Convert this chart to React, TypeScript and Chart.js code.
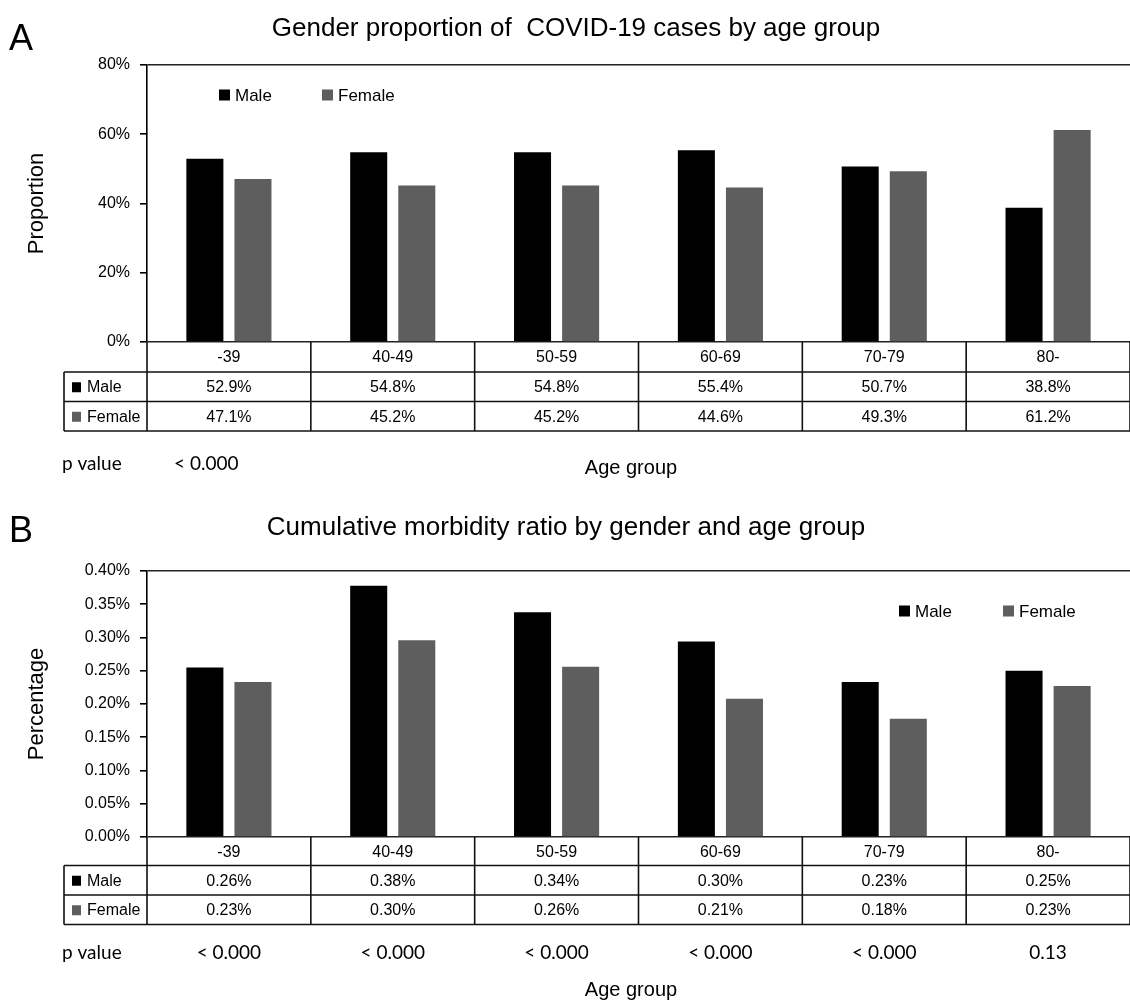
import React, { useEffect, useRef } from 'react';
import { Chart, registerables } from 'chart.js';

Chart.register(...registerables);

const FONT = '"Liberation Sans", Arial, sans-serif';
const PFONT = 'Lato, "Open Sans", sans-serif';

// ---- shared ----
const ageGroups = ['-39', '40-49', '50-59', '60-69', '70-79', '80-'];
const seriesNames = ['Male', 'Female'];
const seriesColors = ['#000000', '#5e5e5e'];

// ---- Panel A: gender proportion ----
const propMale = [52.9, 54.8, 54.8, 55.4, 50.7, 38.8];
const propFemale = [47.1, 45.2, 45.2, 44.6, 49.3, 61.2];
const propMaleText = ['52.9%', '54.8%', '54.8%', '55.4%', '50.7%', '38.8%'];
const propFemaleText = ['47.1%', '45.2%', '45.2%', '44.6%', '49.3%', '61.2%'];
const propPValues = ['< 0.000'];
const propTicks = [0, 20, 40, 60, 80];
const propTickText = ['0%', '20%', '40%', '60%', '80%'];

// ---- Panel B: cumulative morbidity ratio ----
const morbMale = [0.255, 0.378, 0.338, 0.294, 0.233, 0.25];
const morbFemale = [0.233, 0.296, 0.256, 0.208, 0.178, 0.227];
const morbMaleText = ['0.26%', '0.38%', '0.34%', '0.30%', '0.23%', '0.25%'];
const morbFemaleText = ['0.23%', '0.30%', '0.26%', '0.21%', '0.18%', '0.23%'];
const morbPValues = ['< 0.000', '< 0.000', '< 0.000', '< 0.000', '< 0.000', '0.13'];
const morbTicks = [0, 0.05, 0.1, 0.15, 0.2, 0.25, 0.3, 0.35, 0.4];
const morbTickText = ['0.00%', '0.05%', '0.10%', '0.15%', '0.20%', '0.25%', '0.30%', '0.35%', '0.40%'];

type PanelDef = {
  letter: string;
  title: string;
  yTitle: string;
  male: number[];
  female: number[];
  maleText: string[];
  femaleText: string[];
  pValues: string[];
  pMode: 'left' | 'columns';
  ticks: number[];
  tickText: string[];
  // layout (canvas coordinates)
  top: number;
  height: number;
  plotTop: number;
  plotBottom: number;
  letterBase: number;
  titleX: number;
  titleBase: number;
  legendX: number;
  legendY: number;
  legendGap: number;
  rowH: number[];
  pY: number;
  pX: number;
  ageX: number;
  ageY: number;
};

const panels: PanelDef[] = [
  {
    letter: 'A',
    title: 'Gender proportion of  COVID-19 cases by age group',
    yTitle: 'Proportion',
    male: propMale,
    female: propFemale,
    maleText: propMaleText,
    femaleText: propFemaleText,
    pValues: propPValues,
    pMode: 'left',
    ticks: propTicks,
    tickText: propTickText,
    top: 0,
    height: 500,
    plotTop: 65,
    plotBottom: 342,
    letterBase: 50,
    titleX: 576,
    titleBase: 36,
    legendX: 219,
    legendY: 95,
    legendGap: 103,
    rowH: [30, 29.5, 29.5],
    pY: 464,
    pX: 174,
    ageX: 631,
    ageY: 468,
  },
  {
    letter: 'B',
    title: 'Cumulative morbidity ratio by gender and age group',
    yTitle: 'Percentage',
    male: morbMale,
    female: morbFemale,
    maleText: morbMaleText,
    femaleText: morbFemaleText,
    pValues: morbPValues,
    pMode: 'columns',
    ticks: morbTicks,
    tickText: morbTickText,
    top: 500,
    height: 505,
    plotTop: 71,
    plotBottom: 337,
    letterBase: 42,
    titleX: 566,
    titleBase: 35,
    legendX: 899,
    legendY: 111,
    legendGap: 104,
    rowH: [28.5, 29.5, 29.5],
    pY: 453,
    pX: 0,
    ageX: 631,
    ageY: 490,
  },
];

const TABLE_LEFT = 64;

function extrasPlugin(p: PanelDef) {
  return {
    id: 'extras' + p.letter,
    afterDraw(chart: any) {
      const { ctx, chartArea: ca, scales } = chart;
      const xs = scales.x;
      const n = ageGroups.length;
      ctx.save();

      // panel letter
      ctx.fillStyle = '#000';
      ctx.textAlign = 'left';
      ctx.textBaseline = 'alphabetic';
      ctx.font = `36px ${FONT}`;
      ctx.fillText(p.letter, 9, p.letterBase);

      // title
      ctx.font = `26px ${FONT}`;
      ctx.textAlign = 'center';
      ctx.fillText(p.title, p.titleX, p.titleBase);

      // legend
      ctx.font = `17px ${FONT}`;
      ctx.textAlign = 'left';
      ctx.textBaseline = 'middle';
      chart.data.datasets.forEach((ds: any, i: number) => {
        const lx = p.legendX + i * p.legendGap;
        ctx.fillStyle = ds.backgroundColor;
        ctx.fillRect(lx, p.legendY - 5.5, 11, 11);
        ctx.fillStyle = '#000';
        ctx.fillText(ds.label, lx + 16, p.legendY + 1);
      });

      // table grid
      const ys = [ca.bottom];
      p.rowH.forEach((h) => ys.push(ys[ys.length - 1] + h));
      const bounds: number[] = [];
      for (let i = 0; i <= n; i++) bounds.push(xs.getPixelForValue(i - 0.5));
      ctx.strokeStyle = '#111';
      ctx.lineWidth = 1.6;
      ctx.beginPath();
      bounds.forEach((bx) => {
        ctx.moveTo(bx, ys[0]);
        ctx.lineTo(bx, ys[3]);
      });
      ctx.moveTo(TABLE_LEFT, ys[1]);
      ctx.lineTo(TABLE_LEFT, ys[3]);
      for (let k = 1; k <= 3; k++) {
        ctx.moveTo(TABLE_LEFT, ys[k]);
        ctx.lineTo(ca.right, ys[k]);
      }
      ctx.stroke();

      // table text
      ctx.font = `16px ${FONT}`;
      ctx.textAlign = 'center';
      ctx.fillStyle = '#000';
      const rowMid = (k: number) => (ys[k] + ys[k + 1]) / 2 + 1;
      ageGroups.forEach((g, i) => {
        const cx = xs.getPixelForValue(i);
        ctx.fillText(g, cx, rowMid(0));
        ctx.fillText(p.maleText[i], cx, rowMid(1));
        ctx.fillText(p.femaleText[i], cx, rowMid(2));
      });
      [1, 2].forEach((k) => {
        const ds = chart.data.datasets[k - 1];
        ctx.fillStyle = ds.backgroundColor;
        ctx.fillRect(TABLE_LEFT + 8, rowMid(k) - 5.5, 9, 10);
        ctx.fillStyle = '#000';
        ctx.textAlign = 'left';
        ctx.fillText(seriesNames[k - 1], TABLE_LEFT + 23, rowMid(k));
      });

      // p values
      ctx.font = `19px ${PFONT}`;
      ctx.textAlign = 'left';
      ctx.fillText('p value', 62, p.pY);
      if (p.pMode === 'left') {
        ctx.fillText(p.pValues[0], p.pX, p.pY);
      } else {
        ctx.textAlign = 'center';
        p.pValues.forEach((v, i) => ctx.fillText(v, xs.getPixelForValue(i), p.pY));
      }

      // x axis title
      ctx.font = `20px ${FONT}`;
      ctx.textAlign = 'center';
      ctx.fillText('Age group', p.ageX, p.ageY);
      ctx.restore();
    },
  };
}

function Panel({ p }: { p: PanelDef }) {
  const ref = useRef<HTMLCanvasElement>(null);
  useEffect(() => {
    const canvas = ref.current;
    if (!canvas) return;
    const maxV = p.ticks[p.ticks.length - 1];
    const chart = new Chart(canvas, {
      type: 'bar',
      data: {
        labels: ageGroups,
        datasets: [
          {
            label: seriesNames[0],
            data: p.male,
            backgroundColor: seriesColors[0],
            borderWidth: 0,
            categoryPercentage: 0.587,
            barPercentage: 0.77,
          },
          {
            label: seriesNames[1],
            data: p.female,
            backgroundColor: seriesColors[1],
            borderWidth: 0,
            categoryPercentage: 0.587,
            barPercentage: 0.77,
          },
        ],
      },
      options: {
        responsive: false,
        animation: false,
        events: [],
        layout: {
          padding: { left: 0, right: 0, top: p.plotTop, bottom: p.height - p.plotBottom },
        },
        plugins: {
          legend: { display: false },
          title: { display: false },
          tooltip: { enabled: false },
        },
        scales: {
          x: { display: false },
          y: {
            min: 0,
            max: maxV,
            afterBuildTicks: (s: any) => {
              s.ticks = p.ticks.map((v) => ({ value: v }));
            },
            afterFit: (s: any) => {
              s.width = 147;
            },
            ticks: {
              color: '#000',
              font: { family: FONT, size: 16 },
              padding: 10,
              callback: (_v: any, i: number) => p.tickText[i],
            },
            grid: {
              color: (c: any) =>
                c.tick && (c.tick.value === maxV || c.tick.value === 0) ? '#222' : 'rgba(0,0,0,0)',
              tickColor: '#000',
              tickLength: 7,
              lineWidth: 1.6,
            },
            border: { display: true, color: '#000', width: 1.6 },
            title: {
              display: true,
              text: p.yTitle,
              color: '#000',
              font: { family: FONT, size: 22 },
              padding: { top: 24, bottom: 0 },
            },
          },
        },
      },
      plugins: [extrasPlugin(p)],
    } as any);
    return () => chart.destroy();
  }, [p]);
  return (
    <div style={{ position: 'absolute', left: 0, top: p.top, width: 1130, height: p.height }}>
      <canvas ref={ref} width={1130} height={p.height} style={{ display: 'block' }} />
    </div>
  );
}

export default function App() {
  return (
    <div
      style={{
        position: 'absolute',
        left: 0,
        top: 0,
        width: 1130,
        height: 1005,
        background: '#ffffff',
        overflow: 'hidden',
      }}
    >
      {panels.map((p) => (
        <Panel key={p.letter} p={p} />
      ))}
    </div>
  );
}
